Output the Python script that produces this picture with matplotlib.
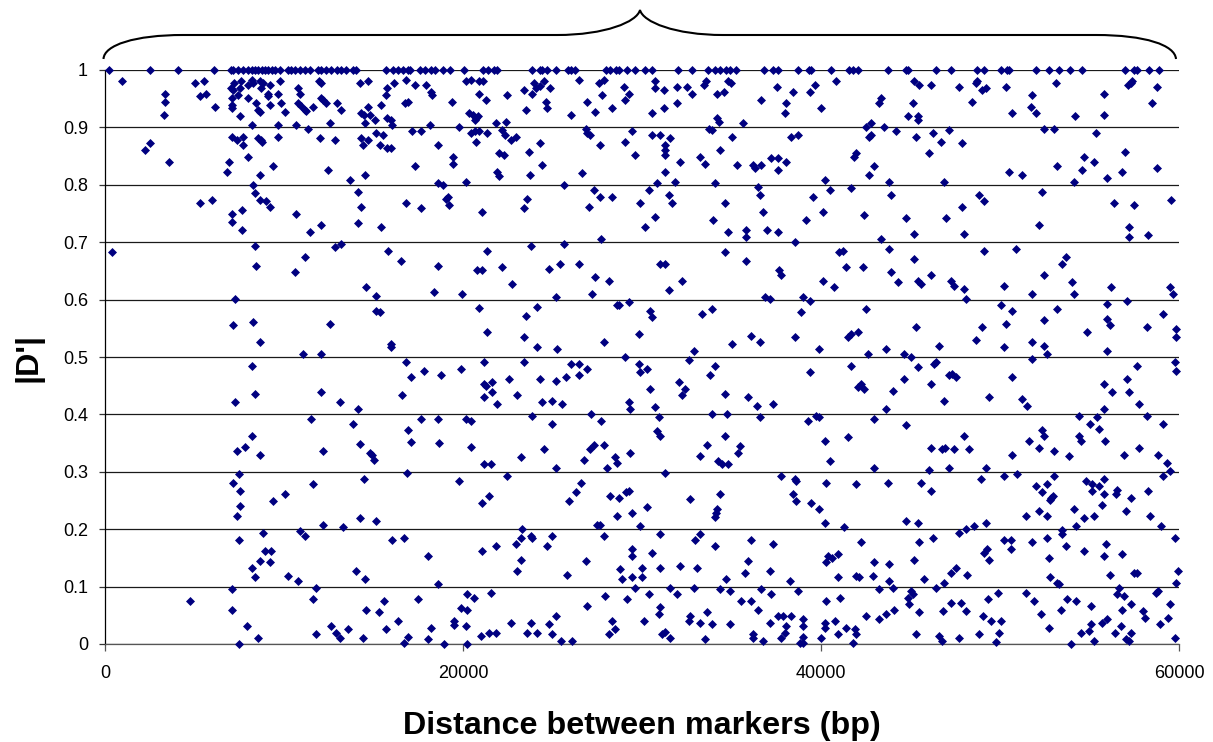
import matplotlib
matplotlib.use("Agg")
import matplotlib.pyplot as plt
from matplotlib.patches import PathPatch
from matplotlib.path import Path
from matplotlib.transforms import Affine2D

plt.rcParams['font.family'] = ['Liberation Sans', 'DejaVu Sans']

# marker pairs with |D'| = 1
dist_complete = [205, 2510, 4090, 6050, 7050, 7150, 7430, 7700, 7980, 8170, 8360, 8540, 8730, 8910, 9100, 9290, 9470, 9750,
                 10220, 10400, 10590, 10870, 11150, 11430, 11890, 12080, 12360, 12640, 12920, 13190, 13470, 13850, 14030,
                 15710, 16080, 16360, 16640, 16920, 17010, 17570, 17850, 18220, 18410, 18870, 19240, 20040,
                 21110, 21390, 21700, 21890, 23845, 24270, 24400, 24700, 25170, 25860, 26040, 26260, 27960, 28180, 28550,
                 28700, 29150, 29610, 30170, 30540, 32030, 32780, 33670, 34080, 34360, 34660, 34920, 35270, 36830, 37300,
                 37600, 38710, 39350, 39460, 40580, 41565, 41790, 42070, 43725, 44730, 44860, 46420, 47240, 48730, 49100,
                 50030, 50400, 50500, 51990, 52730, 53290, 53920, 54590, 56975, 57495, 57660, 58300, 58855]

# (distance bp, |D'|), band by band
high_short = [(949,.980),(5025,.977),(5490,.980),(3350,.959),(3350,.945),(3257,.922),(5304,.954),(5602,.959),(6123,.936),
 (7016,.968),(7202,.977),(7146,.965),(7611,.980),(7518,.968),(7425,.956),(7053,.951),(7053,.939),(7053,.933),(7518,.919),
 (7984,.951),(7984,.974),(8170,.983),(8263,.978),(8635,.980),(8821,.977),(8728,.968),(9193,.974),(9100,.959),(9100,.955),
 (9659,.959),(9752,.980),(8449,.942),(8542,.930),(8635,.927),(9193,.939),(9845,.942),(10031,.927),(8170,.904),(9659,.904),
 (10775,.968),(10868,.959),(10775,.942),(10961,.937),(11147,.931),(11240,.929),(11613,.936),(10682,.904),(11333,.898),
 (11948,.980),(12078,.977),(12078,.951),(12171,.947),(12357,.942),(12971,.942),(13194,.930),(12543,.907),(14218,.977),
 (14683,.980),(15763,.968),(15670,.956),(16135,.977),(15409,.939),(14683,.936),(14274,.925),(14460,.922),(14776,.922),
 (15055,.913),(14497,.907),(15763,.916),(15986,.913),(16042,.904),(16786,.983),(17289,.974),(16730,.942),(16916,.945),
 (17903,.974),(18182,.962),(18275,.956),(19392,.945),(18126,.904),(19764,.901),(17158,.893),(17624,.893),(20136,.980),
 (20452,.983),(20880,.980),(20880,.959),(20322,.925),(20545,.922),(20825,.919),(20638,.913),(20732,.916),(20452,.890),
 (20638,.894),(20880,.893),(7053,.884),(7332,.878),(7705,.884),(7705,.869),(8542,.881),(8728,.878),(8784,.874),(9659,.884),
 (11985,.881),(12822,.878),(14274,.881),(14683,.878),(14404,.869),(15111,.890),(15521,.887),(15335,.869),(15763,.864),
 (15986,.864),(18573,.869),(20694,.875),(2512,.872),(2233,.861),(3536,.840),(6886,.840),(6774,.823),(7984,.849),(8635,.817),
 (9379,.832),(12450,.826),(14497,.817),(17289,.832),(19429,.849),(19429,.837),(13660,.808),(8263,.800),(8356,.785),
 (8635,.774),(9007,.771),(9193,.762),(14125,.788),(14311,.762),(18591,.803),(18871,.800),(20173,.805),(19150,.779),
 (19019,.776),(19206,.765),(5304,.768),(5955,.774),(7053,.750),(7630,.756),(10682,.750),(16823,.768),(17624,.759),
 (7053,.736),(7630,.721),(11427,.718),(12078,.730),(14125,.733),(15428,.727)]

high_mid = [(21109,.980),(21258,.948),(22468,.956),(23398,.965),(23956,.977),(23863,.959),(24050,.968),(24273,.972),(24515,.980),
 (24868,.968),(26450,.983),(27567,.977),(27846,.983),(27753,.956),(28962,.971),(29242,.959),(29056,.948),(26915,.945),
 (27381,.927),(28311,.933),(24608,.945),(24701,.933),(23491,.930),(26004,.922),(30730,.980),(30730,.968),(31196,.965),
 (31940,.971),(32498,.971),(32778,.959),(31940,.942),(31196,.933),(30544,.925),(33429,.974),(33578,.980),(34788,.980),
 (34992,.977),(34173,.959),(34546,.962),(37523,.971),(38417,.962),(39384,.962),(36667,.948),(38063,.942),(37970,.925),
 (21816,.907),(22375,.910),(22188,.895),(22319,.887),(21351,.890),(22654,.878),(22933,.884),(26841,.898),(26915,.890),
 (27101,.887),(29428,.893),(30544,.887),(31010,.887),(31568,.881),(27660,.869),(29056,.875),(31289,.869),(31289,.861),
 (31289,.852),(24310,.872),(23677,.858),(22002,.855),(22281,.852),(29614,.852),(24403,.834),(32126,.840),(33224,.849),
 (33522,.837),(34360,.861),(33708,.898),(33894,.895),(34173,.916),(34322,.910),(35662,.907),(35011,.884),(38323,.884),
 (38714,.887),(35290,.834),(36221,.834),(36295,.829),(36667,.834),(37225,.846),(37598,.846),(38063,.840),(37598,.826),
 (21891,.822),(21984,.816),(23752,.817),(26636,.820),(31289,.823),(31847,.805),(30824,.803),(25631,.800),(34080,.803),
 (27288,.791),(27660,.779),(28311,.779),(30358,.791),(31475,.782),(31661,.769),(29893,.768),(23584,.776),(23398,.759),
 (27009,.762),(21072,.753),(34639,.768),(36499,.797),(36574,.782),(36760,.753),(30730,.744),(30172,.727),(33987,.739),
 (39179,.739),(34788,.718),(36965,.721),(37616,.718),(35811,.722)]

high_long = [(39648,.974),(40821,.980),(40020,.933),(39574,.779),(40207,.808),(40486,.791),(40095,.753),(41677,.794),(42421,.747),
 (41863,.849),(41956,.855),(42514,.901),(42812,.907),(42700,.884),(42812,.887),(42700,.817),(42980,.832),(43259,.942),
 (43352,.951),(43538,.901),(44189,.893),(43817,.805),(43910,.782),(44748,.742),(45213,.715),(44841,.919),(45120,.942),
 (45399,.919),(45399,.913),(45213,.980),(45473,.974),(46143,.974),(47706,.971),(48637,.977),(48730,.980),(49009,.965),
 (49195,.968),(48451,.945),(50312,.971),(50684,.925),(46236,.890),(46701,.875),(47167,.895),(45306,.884),(46032,.855),
 (47892,.872),(50498,.823),(51242,.817),(46869,.805),(48842,.782),(49102,.771),(47892,.762),(46962,.742),(47986,.715),
 (51782,.956),(51708,.936),(51987,.925),(53103,.977),(52452,.898),(53010,.898),(54201,.919),(55802,.959),(55802,.922),
 (55337,.890),(53197,.832),(54685,.849),(55243,.840),(54592,.826),(54127,.805),(52359,.788),(52173,.730),(55970,.811),
 (56807,.823),(56993,.858),(56341,.768),(57458,.765),(57198,.727),(57160,.974),(57290,.977),(57384,.980),(58761,.971),
 (58482,.942),(58761,.829),(59580,.774)]

mid_short = [(372,.683),(8356,.694),(8449,.659),(10589,.648),(11147,.674),(12822,.691),(13194,.697),(15800,.685),(16544,.668),
 (18573,.659),(20787,.651),(14553,.622),(15111,.607),(18387,.613),(19950,.610),(7239,.601),(20880,.585),(15111,.581),
 (15335,.578),(7146,.555),(8263,.561),(12543,.558),(8635,.526),(15949,.523),(15949,.517),(11054,.505),(12078,.505),
 (8170,.485),(16823,.491),(17828,.476),(17084,.465),(18740,.468),(19875,.479),(12078,.439),(7239,.421),(8356,.436),
 (13101,.421),(14125,.410),(16600,.433),(11520,.392),(13846,.384),(17624,.392),(18573,.392),(20136,.392),(20452,.389),
 (16898,.372),(8170,.363)]

mid_mid = [(21351,.685),(23770,.694),(25631,.697),(27679,.706),(21072,.651),(22188,.656),(22747,.627),(24794,.654),(25427,.662),
 (26450,.662),(27381,.639),(28125,.633),(27195,.610),(25166,.604),(24143,.587),(23491,.572),(21351,.543),(23398,.534),
 (24143,.517),(25259,.514),(27846,.526),(21165,.491),(23398,.491),(26004,.488),(26450,.488),(26915,.479),(26450,.468),
 (25724,.465),(25166,.459),(24310,.462),(22561,.462),(21630,.456),(21165,.453),(21258,.450),(21630,.439),(21165,.430),
 (23026,.433),(21909,.418),(24422,.421),(24980,.424),(25538,.418),(23863,.398),(27120,.401),(27679,.389),(24980,.384),
 (28609,.590),(28702,.590),(29242,.595),(30451,.581),(30544,.569),(31010,.662),(31289,.662),(32219,.633),(31475,.616),
 (29800,.540),(29056,.500),(29800,.488),(30265,.479),(29893,.473),(29242,.421),(29335,.410),(30451,.445),(30730,.413),
 (30917,.395),(30824,.371),(31010,.363),(33336,.575),(33894,.584),(32871,.511),(32592,.494),(34080,.485),(33801,.468),
 (32033,.456),(32405,.445),(32219,.433),(34639,.436),(33894,.401),(34732,.401),(35941,.430),(36406,.415),(37337,.418),
 (36592,.395),(34639,.363),(34639,.683),(35811,.668),(35811,.709),(38528,.700),(37672,.651),(37784,.642),(35011,.523),
 (36109,.537),(36574,.526),(36853,.604),(37132,.601),(38528,.534),(38993,.604),(39366,.598),(38900,.578),(39366,.473),
 (39273,.389)]

mid_long = [(43352,.706),(43817,.688),(45213,.671),(41025,.683),(41212,.685),(41398,.656),(42328,.656),(43910,.648),(44282,.630),
 (40095,.633),(40746,.622),(45399,.633),(45566,.627),(46143,.642),(47241,.633),(47427,.624),(47986,.619),(48079,.601),
 (49102,.685),(50870,.688),(50219,.624),(51801,.610),(52452,.642),(53476,.662),(53662,.674),(54034,.630),(54127,.610),
 (56174,.622),(57198,.709),(58295,.712),(59486,.622),(59691,.610),(42514,.584),(50032,.590),(50684,.581),(53197,.584),
 (55970,.593),(57086,.598),(59114,.575),(50312,.558),(52452,.564),(49009,.552),(45287,.552),(55970,.567),(56155,.555),
 (58202,.552),(59859,.549),(59859,.534),(54853,.543),(48637,.529),(46590,.520),(50219,.517),(51801,.526),(52452,.520),
 (52638,.505),(51801,.497),(55970,.511),(41491,.534),(41677,.540),(42049,.543),(39909,.514),(42607,.505),(43631,.514),
 (44654,.505),(45027,.500),(41677,.485),(45399,.482),(46311,.488),(46441,.491),(47129,.468),(47334,.471),(47539,.465),
 (44654,.462),(46143,.453),(42049,.447),(42235,.453),(42421,.444),(44003,.441),(50684,.465),(46888,.424),(49381,.430),
 (51242,.427),(51521,.415),(43631,.410),(42980,.392),(44748,.381),(39704,.398),(39909,.395),(41491,.360),(48004,.363),
 (54387,.398),(55411,.395),(55039,.384),(55504,.375),(55783,.410),(58202,.398),(57737,.418),(57179,.439),(56249,.439),
 (55783,.453),(57086,.462),(57644,.485),(59784,.491),(59859,.476),(59114,.384),(52359,.372),(52452,.363),(54387,.363)]

low_short = [(7332,.336),(7798,.344),(8635,.330),(12171,.336),(14218,.348),(14776,.333),(14925,.329),(15018,.321),(17065,.352),
 (18666,.350),(20434,.344),(7444,.296),(7146,.281),(7518,.267),(7518,.240),(7332,.223),(9379,.249),(10031,.261),(11613,.278),
 (14479,.287),(16879,.298),(19764,.284),(8821,.194),(7444,.182),(12171,.208),(13288,.203),(14218,.220),(15130,.214),
 (10868,.197),(11147,.188),(16042,.182),(16712,.185),(8914,.162),(9286,.162),(8635,.145),(9193,.142),(8170,.133),(8356,.116),
 (10217,.118),(10775,.110),(18014,.153),(14013,.127),(14497,.113),(11799,.098),(7053,.095),(11613,.078),(4727,.075),
 (7053,.060),(18573,.104),(15595,.075),(17456,.078),(14572,.060),(15316,.055),(20229,.087),(20601,.081),(19857,.063),
 (20229,.060),(16340,.040),(19503,.040),(19485,.033),(20136,.031),(7891,.031),(12636,.031),(12915,.020),(13101,.011),
 (13548,.026),(11799,.017),(8542,.011),(7444,0),(14404,.011),(15688,.026),(18182,.028),(16898,.012),(16712,.002),(18014,.008),
 (18945,0),(20229,0)]

low_mid = [(23212,.325),(24515,.339),(26729,.321),(27101,.339),(27288,.347),(27846,.347),(28497,.325),(28590,.315),(28032,.307),
 (29335,.333),(25166,.307),(21165,.313),(21537,.313),(22468,.293),(26562,.281),(26283,.264),(25910,.249),(21072,.246),
 (21444,.258),(28218,.258),(28702,.255),(29111,.264),(29242,.267),(28590,.223),(29428,.229),(30265,.238),(29893,.206),
 (27474,.208),(27660,.208),(27846,.188),(23305,.200),(23212,.185),(22933,.174),(23770,.188),(23863,.185),(24980,.188),
 (24701,.171),(21816,.171),(21072,.162),(23212,.147),(23026,.127),(25817,.121),(26841,.145),(29428,.165),(29428,.153),
 (30544,.159),(31010,.191),(28776,.130),(29986,.133),(31010,.133),(32126,.136),(33057,.133),(28869,.113),(29428,.116),
 (29986,.116),(29614,.098),(21537,.089),(27939,.084),(30358,.087),(29149,.078),(26915,.066),(31568,.098),(31940,.087),
 (32871,.098),(34360,.095),(34918,.092),(32685,.252),(34360,.261),(34173,.235),(34136,.228),(34062,.222),(33243,.191),
 (32964,.182),(34080,.171),(36109,.182),(37318,.174),(35922,.145),(35736,.124),(37132,.127),(34713,.113),(36667,.095),
 (37225,.087),(38249,.110),(38714,.092),(35550,.075),(36109,.075),(36481,.060),(37784,.293),(38528,.287),(38621,.284),
 (38435,.261),(38621,.249),(39458,.246),(33224,.328),(33615,.347),(34248,.319),(34453,.313),(34825,.313),(35476,.345),
 (35383,.333),(31289,.298),(31010,.064),(30917,.052),(25166,.049),(22654,.037),(23770,.037),(24794,.034),(20979,.014),
 (21444,.020),(21816,.020),(23584,.020),(24143,.020),(24980,.017),(25445,.006),(26096,.005),(28311,.040),(28497,.026),
 (28125,.017),(30079,.040),(31103,.017),(31289,.021),(31568,.011),(33522,.008),(32592,.040),(32685,.049),(33224,.037),
 (33615,.055),(33894,.034),(34918,.034),(37132,.037),(37598,.049),(37877,.049),(38342,.049),(38063,.031),(38993,.043),
 (38993,.031),(37970,.020),(37784,.011),(36202,.018),(36202,.011),(36760,.005),(38993,.012),(38807,.002),(38993,.002)]

low_long = [(40207,.353),(40486,.318),(42980,.307),(46032,.304),(46125,.342),(46776,.339),(46906,.342),(47427,.339),(48265,.339),
 (47148,.307),(49195,.307),(40281,.281),(41956,.278),(43724,.281),(45566,.281),(46143,.267),(39909,.235),(48916,.287),
 (50219,.293),(50963,.296),(50684,.330),(52173,.342),(53010,.336),(53848,.328),(51615,.353),(54499,.353),(55876,.353),
 (56919,.330),(57756,.342),(58854,.330),(59319,.316),(59505,.301),(59133,.293),(53010,.293),(51987,.275),(52638,.278),
 (52359,.264),(52768,.251),(52955,.257),(52860,.254),(54778,.284),(55150,.278),(55522,.275),(55802,.287),(55150,.267),
 (55802,.261),(55709,.243),(56546,.269),(56453,.261),(57290,.255),(58295,.267),(51428,.223),(52173,.232),(52638,.223),
 (54127,.235),(54685,.220),(55243,.223),(57012,.232),(58389,.223),(54220,.206),(59020,.206),(40207,.211),(41305,.203),
 (44748,.214),(45399,.211),(49214,.211),(47706,.194),(48079,.200),(48544,.206),(46236,.185),(42235,.177),(45492,.177),
 (59784,.185),(53476,.198),(53476,.191),(52638,.185),(50219,.182),(50591,.182),(51801,.177),(53662,.171),(54685,.162),
 (55895,.174),(55802,.153),(56825,.156),(50591,.165),(49102,.159),(49288,.165),(49381,.147),(45213,.147),(52731,.150),
 (40281,.142),(40393,.153),(40597,.149),(40932,.156),(42980,.142),(43817,.139),(47241,.124),(47520,.133),(48172,.121),
 (40932,.116),(41956,.118),(42142,.116),(42886,.118),(43817,.110),(45771,.113),(46869,.107),(44003,.098),(46422,.098),
 (43259,.095),(45027,.092),(45157,.087),(44840,.081),(44933,.069),(45492,.055),(44096,.060),(43631,.052),(43259,.043),
 (42514,.049),(40281,.075),(41044,.081),(40207,.037),(40207,.028),(40765,.040),(41416,.028),(41881,.026),(41956,.017),
 (40951,.017),(40020,.011),(41788,.002),(45306,.017),(46590,.014),(46776,.005),(47706,.011),(48842,.017),(49753,.003),
 (49940,.020),(46795,.057),(47260,.072),(47818,.072),(48079,.057),(49307,.078),(49865,.089),(49028,.049),(49474,.040),
 (50033,.040),(51428,.089),(51894,.075),(52266,.052),(52731,.028),(53754,.078),(54220,.075),(53382,.060),(55057,.066),
 (52806,.116),(53197,.107),(53290,.104),(56155,.121),(57477,.124),(57663,.124),(59970,.127),(59859,.107),(56640,.098),
 (56528,.087),(56919,.084),(57290,.069),(56825,.060),(58687,.089),(58854,.092),(59505,.069),(58000,.057),(58090,.046),
 (59412,.046),(58947,.034),(55709,.037),(55970,.043),(55057,.034),(54499,.020),(54965,.023),(55243,.005),(53941,0),
 (56732,.031),(56435,.020),(57290,.020),(57012,.008),(57198,.005),(59784,.011)]

x_ticks = [0, 20000, 40000, 60000]
y_ticks = [0, 0.1, 0.2, 0.3, 0.4, 0.5, 0.6, 0.7, 0.8, 0.9, 1]

W, H = 1213, 742
fig = plt.figure(figsize=(W / 100, H / 100), dpi=100)
ax = fig.add_axes([105.3 / W, 1 - 644 / H, (1179 - 105.3) / W, 574 / H])

ax.set_xlim(0, 60000)
ax.set_ylim(0, 1)
ax.set_xticks(x_ticks)
ax.set_yticks(y_ticks)
ax.set_yticklabels(['0', '0.1', '0.2', '0.3', '0.4', '0.5', '0.6', '0.7', '0.8', '0.9', '1'])
ax.grid(True, axis='y', color='#1a1a1a', lw=0.9, zorder=1)
ax.set_axisbelow(True)
ax.tick_params(axis='y', length=4.5, width=0.9, color='#333333', labelsize=13, pad=8)
ax.tick_params(axis='x', length=5, width=0.9, color='#555555', labelsize=13, pad=10)
ax.spines['top'].set_visible(False)
ax.spines['right'].set_visible(False)
ax.spines['left'].set_linewidth(0.9)
ax.spines['bottom'].set_linewidth(0.9)
ax.spines['bottom'].set_color('#555555')

regions = [high_short, high_mid, high_long, mid_short, mid_mid, mid_long, low_short, low_mid, low_long]
xs = list(dist_complete)
ys = [1.0] * len(dist_complete)
for region in regions:
    for d, v in region:
        xs.append(d)
        ys.append(v)
ax.scatter(xs, ys, marker='D', s=21, color='#000080', linewidths=0, clip_on=False, zorder=3)

ax.set_xlabel('Distance between markers (bp)', fontsize=23.2, fontweight='bold', labelpad=21)
ax.set_ylabel("|D'|", fontsize=23.2, fontweight='bold', labelpad=14)

# brace above the plot, drawn in pixel positions of the figure
to_fig = Affine2D().scale(1 / W, -1 / H).translate(0, 1) + fig.transFigure
verts = [(103.5, 59), (104, 45), (135, 35), (183, 35), (557, 35), (605, 35), (637, 22), (640, 10),
         (643, 22), (675, 35), (723, 35), (1096, 35), (1145, 35), (1175, 45), (1176, 59)]
codes = [Path.MOVETO, Path.CURVE4, Path.CURVE4, Path.CURVE4, Path.LINETO, Path.CURVE4, Path.CURVE4, Path.CURVE4,
         Path.CURVE4, Path.CURVE4, Path.CURVE4, Path.LINETO, Path.CURVE4, Path.CURVE4, Path.CURVE4]
fig.add_artist(PathPatch(Path(verts, codes), fc='none', ec='black', lw=1.5, transform=to_fig))

fig.savefig('out.png', dpi=100)
